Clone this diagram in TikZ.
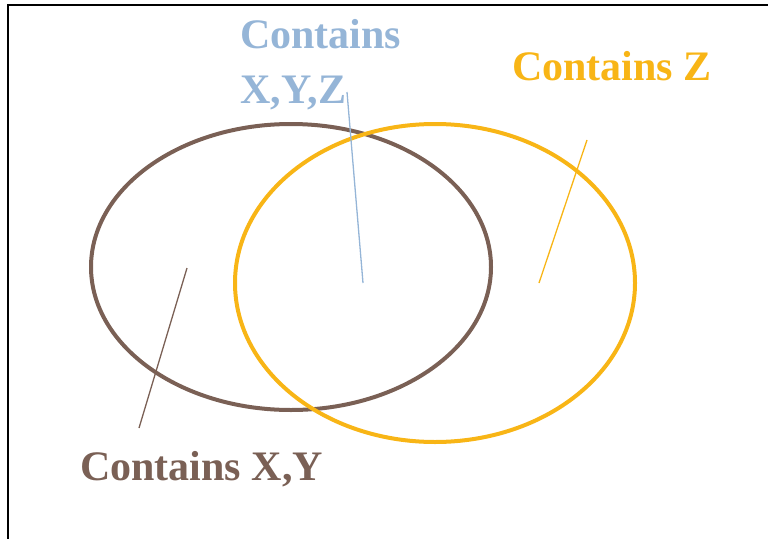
\documentclass[tikz,border=0pt]{standalone}
\usepackage{fontspec}
\setmainfont{Liberation Serif}
\usetikzlibrary{shapes.geometric}
\definecolor{cbrown}{RGB}{122,96,85}
\definecolor{cblue}{RGB}{149,181,215}
\definecolor{corange}{RGB}{248,181,22}
\begin{document}
\begin{tikzpicture}[x=1pt,y=-1pt,
  lbl/.style={anchor=base west,inner sep=0pt,font=\fontsize{42}{54}\selectfont\bfseries},
  setring/.style={ellipse,draw,line width=4pt,inner sep=0pt},
  leader/.style={line width=1.3pt}]
\useasboundingbox (0,0) rectangle (768,538);
\draw[line width=1.5pt] (8,540) -- (8,5) -- (770,5);
% ellipses
\node[setring,draw=cbrown,minimum width=400pt,minimum height=286pt] (xy) at (291,267) {};
\node[setring,draw=corange,minimum width=400pt,minimum height=318pt] (z) at (435,283) {};
% labels
\node[lbl,text=cblue] (lxyz1) at (240,48) {Contains};
\node[lbl,text=cblue] (lxyz2) at (240,103) {X,Y,Z};
\node[lbl,text=corange] (lz) at (512,80) {Contains Z};
\node[lbl,text=cbrown] (lxy) at (80,480) {Contains X,Y};
% leader lines
\coordinate (b1) at (347,92);  \coordinate (b2) at (363,283);
\coordinate (o1) at (587,140); \coordinate (o2) at (539,283);
\coordinate (r1) at (139,428); \coordinate (r2) at (187,268);
\draw[leader,cblue] (b1) -- (b2);
\draw[leader,corange] (o1) -- (o2);
\draw[leader,cbrown] (r1) -- (r2);
\end{tikzpicture}
\end{document}
